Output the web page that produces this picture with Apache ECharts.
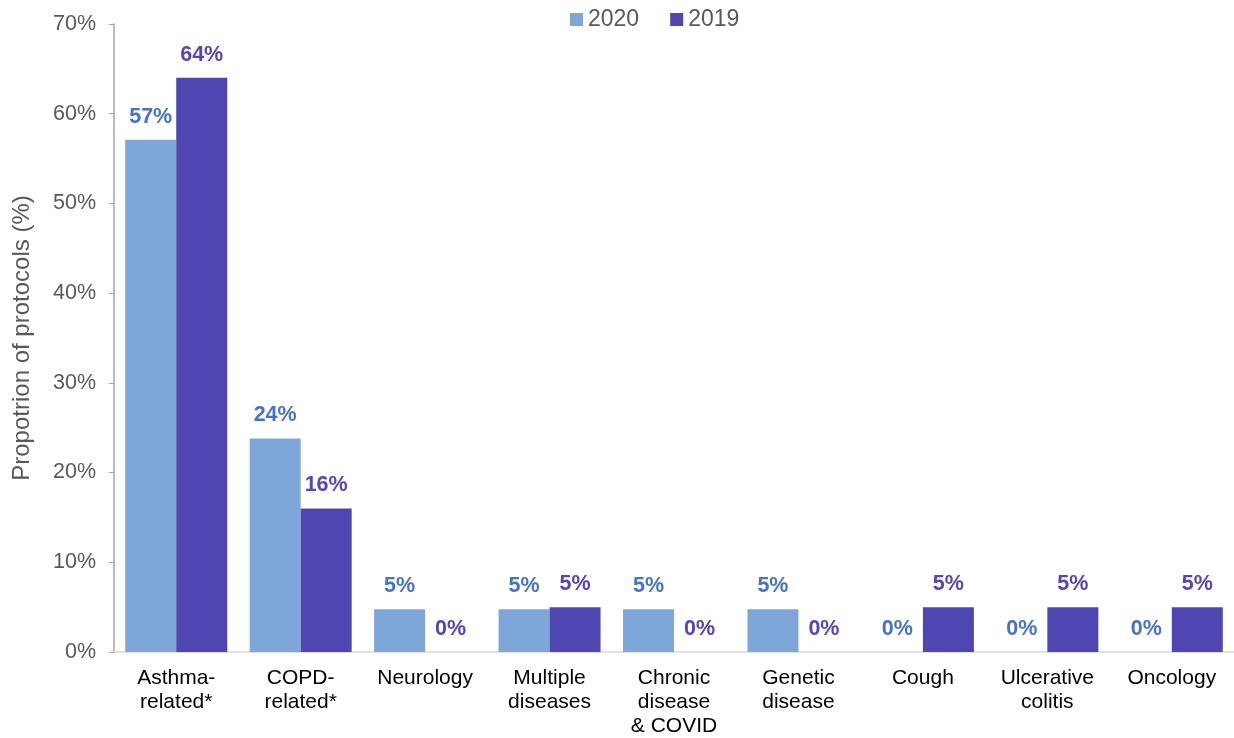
<!DOCTYPE html>
<html>
<head>
<meta charset="utf-8">
<script src="https://cdn.jsdelivr.net/npm/echarts@6/dist/echarts.min.js"></script>
<style>
  html, body { margin: 0; padding: 0; background: #ffffff; }
  #chart { width: 1234px; height: 738px; }
</style>
</head>
<body>
<div id="chart"></div>
<script>
// Protocol categories (x axis)
const categories = [
  'Asthma-\nrelated*', 'COPD-\nrelated*', 'Neurology', 'Multiple\ndiseases',
  'Chronic\ndisease\n& COVID', 'Genetic\ndisease', 'Cough', 'Ulcerative\ncolitis', 'Oncology'
];
// Share of protocols per year, in percent
const values2020 = [57.1, 23.8, 4.76, 4.76, 4.76, 4.76, 0, 0, 0];
const values2019 = [64, 16, 0, 5, 0, 0, 5, 5, 5];
const seriesNames = ['2020', '2019'];
const yTicks = { min: 0, max: 70, interval: 10 };

const FONT = '"Liberation Sans", Arial, sans-serif';
const colors = { bar2020: '#7FA6D9', bar2019: '#5046B1', lab2020: '#4573C6', lab2019: '#5546B4' };

const chart = echarts.init(document.getElementById('chart'), null, { renderer: 'canvas' });

function labelFor(color) {
  return {
    show: true,
    position: 'top',
    distance: 12,
    color: color,
    fontFamily: FONT,
    fontSize: 21.5,
    fontWeight: 'bold',
    formatter: p => Math.round(p.value) + '%'
  };
}

chart.setOption({
  animation: false,
  textStyle: { fontFamily: FONT },
  legend: {
    top: 8,
    left: 570,
    padding: 0,
    itemWidth: 13,
    itemHeight: 13,
    itemGap: 31,
    icon: 'rect',
    textStyle: { fontFamily: FONT, fontSize: 23, color: '#595959' },
    data: seriesNames
  },
  grid: { left: 114, top: 24, width: 1121, height: 628.5, containLabel: false },
  xAxis: {
    type: 'category',
    data: categories,
    axisLine: { lineStyle: { color: '#D9D9D9', width: 1.5 } },
    axisTick: { show: false },
    axisLabel: {
      interval: 0,
      margin: 14,
      color: '#000000',
      fontFamily: FONT,
      fontSize: 21,
      lineHeight: 24,
      verticalAlign: 'top'
    }
  },
  yAxis: {
    type: 'value',
    min: yTicks.min,
    max: yTicks.max,
    interval: yTicks.interval,
    name: 'Propotrion of protocols (%)',
    nameLocation: 'middle',
    nameGap: 80,
    nameRotate: 90,
    nameTextStyle: { fontFamily: FONT, fontSize: 24, color: '#595959' },
    axisLine: { show: true, lineStyle: { color: '#A6A6A6', width: 1.5 } },
    axisTick: { show: true, inside: false, length: 5, lineStyle: { color: '#A6A6A6' } },
    splitLine: { show: false },
    axisLabel: {
      margin: 18,
      color: '#595959',
      fontFamily: FONT,
      fontSize: 21.5,
      formatter: v => v + '%'
    }
  },
  series: [
    {
      name: seriesNames[0],
      type: 'bar',
      data: values2020,
      barWidth: 51,
      barGap: '0%',
      itemStyle: { color: colors.bar2020 },
      label: labelFor(colors.lab2020)
    },
    {
      name: seriesNames[1],
      type: 'bar',
      data: values2019,
      barWidth: 51,
      barGap: '0%',
      itemStyle: { color: colors.bar2019 },
      label: labelFor(colors.lab2019)
    }
  ]
});
</script>
</body>
</html>
